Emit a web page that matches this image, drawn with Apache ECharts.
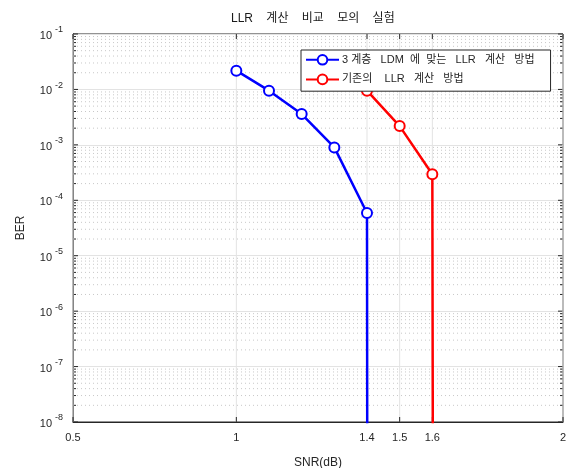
<!DOCTYPE html>
<html>
<head>
<meta charset="utf-8">
<script src="https://cdn.jsdelivr.net/npm/echarts@6/dist/echarts.min.js"></script>
<style>
  html, body { margin: 0; padding: 0; background: #fff; }
  #chart { width: 571px; height: 468px; }
</style>
</head>
<body>
<div id="chart"></div>
<script>
const FONT = "'Liberation Sans', 'Noto Sans CJK KR', sans-serif"

const X_MIN = 0.5
const X_MAX = 2
const X_TICKS = [0.5, 1, 1.4, 1.5, 1.6, 2]

// 3-level LDM LLR (blue) and conventional LLR (red); last point drops below the axis
const SNR_LDM = [1.0, 1.1, 1.2, 1.3, 1.4, 1.401]
const BER_LDM = [0.0218, 0.0095, 0.0036, 0.0009, 0.000059, 1e-10]
const SNR_CONV = [1.4, 1.5, 1.6, 1.602]
const BER_CONV = [0.0095, 0.00218, 0.000294, 1e-10]

const Y_MIN = 1e-8
const Y_MAX = 1e-1
const Y_DECADES = [1e-8, 1e-7, 1e-6, 1e-5, 1e-4, 1e-3, 1e-2, 1e-1]

const SERIES_NAMES = ['3 계층   LDM  에  맞는   LLR   계산   방법', '기존의    LLR   계산   방법']

// minor log positions (2..9 in each decade), only used for grid decoration
const yMinor = []
Y_DECADES.slice(0, -1).forEach((d) => {
  for (let m = 2; m <= 9; m++) yMinor.push(d * m)
})

const chart = echarts.init(document.getElementById('chart'))

const near = (a, b) => Math.abs(a - b) < 1e-6

// dotted minor y gridlines + small inward ticks on both sides
const renderYMinor = (params, api) => {
  const cs = params.coordSys
  const y = api.coord([X_MIN, api.value(1)])[1]
  const style = { stroke: '#262626', lineWidth: 1 }
  return {
    type: 'group',
    children: [
      { type: 'line', shape: { x1: cs.x, y1: y, x2: cs.x + cs.width, y2: y }, style: { stroke: '#c8c8c8', lineWidth: 1, lineDash: [1, 3] } },
      { type: 'line', shape: { x1: cs.x, y1: y, x2: cs.x + 3, y2: y }, style },
      { type: 'line', shape: { x1: cs.x + cs.width - 3, y1: y, x2: cs.x + cs.width, y2: y }, style },
    ],
  }
}

// major ticks on both sides
const renderYMajor = (params, api) => {
  const cs = params.coordSys
  const y = api.coord([X_MIN, api.value(1)])[1]
  const style = { stroke: '#262626', lineWidth: 1 }
  return {
    type: 'group',
    children: [
      { type: 'line', shape: { x1: cs.x, y1: y, x2: cs.x + 5, y2: y }, style },
      { type: 'line', shape: { x1: cs.x + cs.width - 5, y1: y, x2: cs.x + cs.width, y2: y }, style },
    ],
  }
}

// vertical major gridlines + inward ticks top and bottom
const renderXMajor = (params, api) => {
  const cs = params.coordSys
  const x = api.coord([api.value(0), Y_MAX])[0]
  const style = { stroke: '#262626', lineWidth: 1 }
  return {
    type: 'group',
    children: [
      { type: 'line', shape: { x1: x, y1: cs.y, x2: x, y2: cs.y + cs.height }, style: { stroke: '#e3e3e3', lineWidth: 1 } },
      { type: 'line', shape: { x1: x, y1: cs.y, x2: x, y2: cs.y + 5 }, style },
      { type: 'line', shape: { x1: x, y1: cs.y + cs.height - 5, x2: x, y2: cs.y + cs.height }, style },
    ],
  }
}

const option = {
  backgroundColor: '#fff',
  animation: false,
  textStyle: { fontFamily: FONT },
  title: {
    text: 'LLR    계산    비교    모의    실험',
    left: 226,
    top: 8,
    textStyle: { fontSize: 12, fontWeight: 'normal', color: '#1a1a1a', fontFamily: FONT },
  },
  legend: {
    data: SERIES_NAMES,
    orient: 'vertical',
    left: 301,
    top: 50,
    padding: [4, 16, 6, 4],
    itemWidth: 33,
    itemHeight: 12,
    itemGap: 8,
    backgroundColor: '#fff',
    borderColor: '#262626',
    borderWidth: 1,
    borderRadius: 0,
    textStyle: { fontSize: 11, color: '#262626', fontFamily: FONT, padding: [0, 0, 0, -2] },
    z: 10,
  },
  grid: {
    left: 73,
    top: 34,
    right: 8,
    bottom: 46,
    show: true,
    borderColor: '#262626',
    borderWidth: 1,
    containLabel: false,
    outerBoundsMode: 'none',
  },
  xAxis: {
    type: 'value',
    min: X_MIN,
    max: X_MAX,
    interval: 0.1,
    name: 'SNR(dB)',
    nameLocation: 'middle',
    nameGap: 35,
    nameTextStyle: { fontSize: 12, color: '#262626' },
    axisLine: { lineStyle: { color: '#262626' } },
    axisTick: { show: false },
    splitLine: { show: false },
    axisLabel: {
      fontSize: 11,
      color: '#262626',
      margin: 10,
      formatter: (v) => (X_TICKS.some((t) => near(t, v)) ? String(+v.toFixed(1)) : ''),
    },
  },
  yAxis: {
    type: 'log',
    logBase: 10,
    min: Y_MIN,
    max: Y_MAX,
    name: 'BER',
    nameLocation: 'middle',
    nameGap: 46,
    nameTextStyle: { fontSize: 12, color: '#262626' },
    axisLine: { lineStyle: { color: '#262626' } },
    axisTick: { show: false },
    splitLine: { show: true, lineStyle: { color: '#e3e3e3', width: 1 } },
    minorSplitLine: { show: false },
    axisLabel: {
      margin: 10,
      color: '#262626',
      formatter: (v) => `{b|10}{e|${Math.round(Math.log10(v))}}`,
      rich: {
        b: { fontSize: 11, color: '#262626', padding: [4, 0, 0, 0] },
        e: { fontSize: 9, color: '#262626', padding: [0, 0, 8, 3] },
      },
    },
  },
  series: [
    {
      type: 'custom',
      silent: true,
      z: 1,
      renderItem: renderYMinor,
      data: yMinor.map((v) => [X_MIN, v]),
    },
    {
      type: 'custom',
      silent: true,
      z: 1,
      renderItem: renderYMajor,
      data: Y_DECADES.map((v) => [X_MIN, v]),
    },
    {
      type: 'custom',
      silent: true,
      z: 1,
      renderItem: renderXMajor,
      data: X_TICKS.map((v) => [v, Y_MAX]),
    },
    {
      name: SERIES_NAMES[0],
      type: 'line',
      z: 3,
      clip: true,
      color: '#0000ff',
      symbol: 'emptyCircle',
      symbolSize: 10,
      lineStyle: { width: 2.5, color: '#0000ff' },
      itemStyle: { color: '#0000ff', borderWidth: 2 },
      data: SNR_LDM.map((x, i) => [x, BER_LDM[i]]),
    },
    {
      name: SERIES_NAMES[1],
      type: 'line',
      z: 3,
      clip: true,
      color: '#ff0000',
      symbol: 'emptyCircle',
      symbolSize: 10,
      lineStyle: { width: 2.5, color: '#ff0000' },
      itemStyle: { color: '#ff0000', borderWidth: 2 },
      data: SNR_CONV.map((x, i) => [x, BER_CONV[i]]),
    },
  ],
}

chart.setOption(option)
</script>
</body>
</html>
